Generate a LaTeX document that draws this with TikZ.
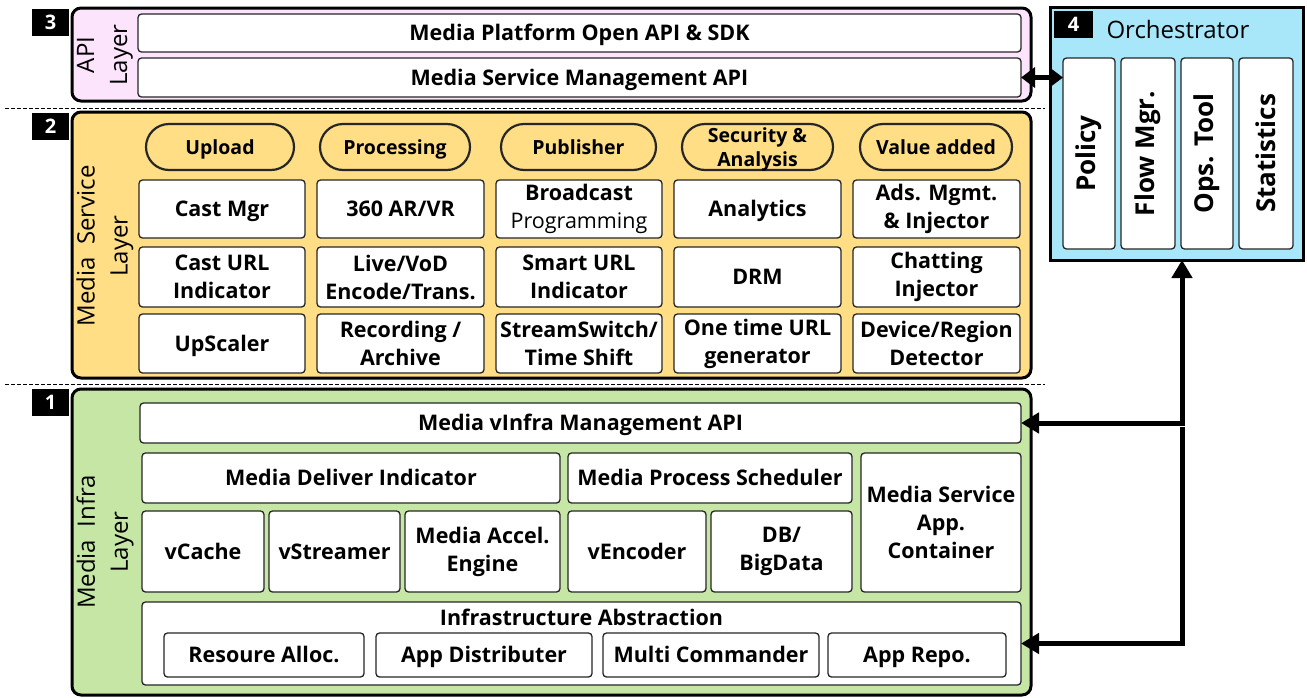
\documentclass[tikz,border=0pt]{standalone}
\usepackage{fontspec}
\setmainfont{Open Sans}
\usetikzlibrary{arrows.meta}
\definecolor{apifill}{HTML}{FCE4FC}
\definecolor{svcfill}{HTML}{FFDE85}
\definecolor{infrafill}{HTML}{C6E6A6}
\definecolor{orchfill}{HTML}{A8E6FA}
\newcommand\bx[7][]{\node[box,#1,minimum width={#4pt-#2pt},minimum height={#5pt-#3pt}] (#6) at ({(#2+#4)/2},{(#3+#5)/2}) {#7};}
\begin{document}
\begin{tikzpicture}[x=1pt,y=-1pt,
  layer/.style={draw=black, line width=3pt, rounded corners=9pt},
  box/.style={draw=black!85, line width=1.3pt, fill=white, rounded corners=3.5pt, align=center, inner sep=0pt, outer sep=0pt, font=\bfseries\fontsize{21.5}{28}\selectfont},
  sl/.style={text height=15.4pt, text depth=0pt},
  pill/.style={box, fill=svcfill, line width=2.2pt, rounded corners=23pt, font=\bfseries\fontsize{19.5}{24}\selectfont},
  psl/.style={pill, text height=14pt, text depth=0pt},
  vbox/.style={box, font=\bfseries\fontsize{26}{30}\selectfont},
  badge/.style={fill=black, text=white, inner sep=0pt, outer sep=0pt, minimum width=37pt, minimum height=27pt, font=\bfseries\fontsize{20}{24}\selectfont},
  lname/.style={rotate=90, align=center, inner sep=0pt, font=\fontsize{24}{33}\selectfont},
  sep/.style={dashed, dash pattern=on 4pt off 2pt, line width=1pt},
  arr/.style={line width=5pt, -{Triangle[length=18pt,width=20pt]}},
  dbl/.style={line width=5pt, {Triangle[length=14pt,width=20pt]}-{Triangle[length=14pt,width=20pt]}}
]
\useasboundingbox (0,0) rectangle (1307,697);

% separators
\draw[sep] (5,108) -- (1045,108);
\draw[sep] (5,384) -- (1045,384);

% ---------- API layer ----------
\node[layer, fill=apifill, minimum width=959pt, minimum height=93pt, inner sep=0pt] (apil) at (551.5,54.5) {};
\node[badge] (b3) at (50.5,22.5) {3};
\node[lname] (apiname) at (105,55) {API\\Layer};
\bx[sl]{138}{14}{1021}{52}{sdk}{Media Platform Open API \& SDK}
\bx[sl]{138}{58}{1021}{97}{msm}{Media Service Management API}

% ---------- Media Service layer ----------
\node[layer, fill=svcfill, minimum width=959pt, minimum height=266pt, inner sep=0pt] (svcl) at (551.5,245) {};
\node[badge] (b2) at (50.5,126.5) {2};
\node[lname] (svcname) at (105,246) {Media\ \ Service\\Layer};
\bx[psl]{146}{124}{294}{170}{p1}{Upload}
\bx[psl]{320}{124}{470}{170}{p2}{Processing}
\bx[psl]{501}{124}{656}{170}{p3}{Publisher}
\bx[pill, text depth=0pt]{682}{124}{833}{170}{p4}{Security \&\\Analysis}
\bx[psl]{860}{124}{1012}{170}{p5}{Value added}

\bx[sl]{139}{180}{305}{238}{c11}{Cast Mgr}
\bx[sl]{317}{180}{484}{238}{c21}{360 AR/VR}
\bx{496}{180}{662}{238}{c31}{Broadcast\\{\mdseries Programming}}
\bx[sl]{674}{180}{841}{238}{c41}{Analytics}
\bx{853}{180}{1020}{238}{c51}{Ads. Mgmt.\\\& Injector}

\bx{139}{247}{305}{307}{c12}{Cast URL\\Indicator}
\bx{317}{247}{484}{307}{c22}{Live/VoD\\Encode/Trans.}
\bx{496}{247}{662}{307}{c32}{Smart URL\\Indicator}
\bx[sl]{674}{247}{841}{307}{c42}{DRM}
\bx{853}{247}{1020}{307}{c52}{Chatting\\Injector}

\bx[sl]{139}{314}{305}{373}{c13}{UpScaler}
\bx{317}{314}{484}{373}{c23}{Recording /\\Archive}
\bx{496}{314}{662}{373}{c33}{StreamSwitch/\\Time Shift}
\bx{674}{314}{841}{373}{c43}{One time URL\\generator}
\bx{853}{314}{1020}{373}{c53}{Device/Region\\Detector}

% ---------- Media Infra layer ----------
\node[layer, fill=infrafill, minimum width=959pt, minimum height=306pt, inner sep=0pt] (infl) at (551.5,542) {};
\node[badge] (b1) at (50.5,402.5) {1};
\node[lname] (infname) at (105,542) {Media\ \ Infra\\Layer};
\bx[sl]{140}{403}{1021}{443}{vinfra}{Media vInfra Management API}
\bx[sl]{142}{453}{560}{503}{mdi}{Media Deliver Indicator}
\bx[sl]{568}{453}{852}{503}{mps}{Media Process Scheduler}
\bx{861}{453}{1021}{592}{msac}{Media Service\\App.\\Container}
\bx[sl]{142}{511}{264}{592}{vcache}{vCache}
\bx[sl]{269}{511}{400}{592}{vstream}{vStreamer}
\bx{405}{511}{560}{592}{accel}{Media Accel.\\Engine}
\bx[sl]{568}{511}{706}{592}{venc}{vEncoder}
\bx{711}{511}{852}{592}{db}{DB/\\BigData}
\bx{142}{602}{1021}{685}{infra}{}
\node[font=\bfseries\fontsize{21.5}{24}\selectfont, inner sep=0pt, text height=15.4pt, text depth=0pt] (iatext) at (581.5,618) {Infrastructure Abstraction};
\bx[sl]{164}{633}{364}{677}{ralloc}{Resoure Alloc.}
\bx[sl]{376}{633}{592}{677}{appd}{App Distributer}
\bx[sl]{603}{633}{819}{677}{multi}{Multi Commander}
\bx[sl]{828}{633}{1006}{677}{repo}{App Repo.}

% ---------- Orchestrator ----------
\node[draw=black, line width=3pt, fill=orchfill, minimum width=253pt, minimum height=253pt, inner sep=0pt, outer sep=0pt] (orch) at (1176.5,133.5) {};
\node[badge, minimum width=39pt] (b4) at (1073.5,24.5) {4};
\node[font=\fontsize{24}{28}\selectfont, inner sep=0pt] (orchtitle) at (1178,29) {Orchestrator};
\bx{1063}{58}{1115}{249}{policy}{}
\bx{1121}{58}{1175}{249}{flow}{}
\bx{1181}{58}{1233}{249}{ops}{}
\bx{1239}{58}{1293}{249}{stats}{}
\node[vbox, draw=none, fill=none, rotate=90] (policyt) at (policy) {Policy};
\node[vbox, draw=none, fill=none, rotate=90] (flowt) at (flow) {Flow Mgr.};
\node[vbox, draw=none, fill=none, rotate=90] (opst) at (ops) {Ops. Tool};
\node[vbox, draw=none, fill=none, rotate=90] (statst) at (stats) {Statistics};

% ---------- connectors ----------
\coordinate (j1) at (1182,427);
\draw[dbl] (msm.east) -- (policy.west |- msm.east);
\draw[line width=5pt, {Triangle[length=18pt,width=20pt]}-{Triangle[length=18pt,width=20pt]}] (orch.south -| j1) |- (vinfra.east);
\draw[arr] (j1) |- (infra.east);
\end{tikzpicture}
\end{document}
